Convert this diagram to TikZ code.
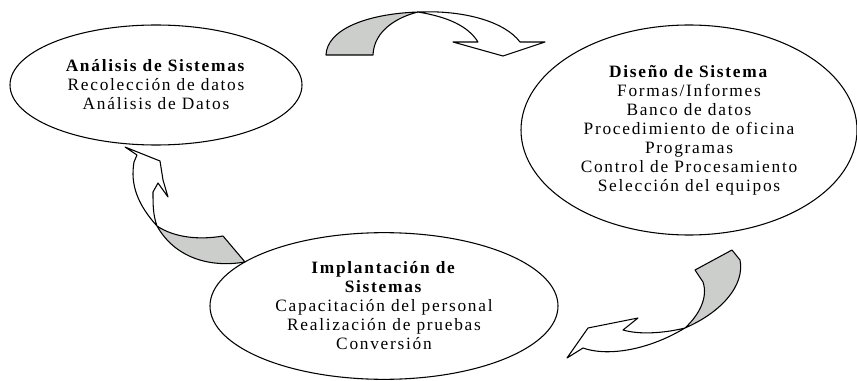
\documentclass[tikz,border=0pt]{standalone}
\usepackage{fontspec}
\setmainfont{Liberation Serif}[LetterSpace=10]
\usetikzlibrary{shapes.geometric}
\definecolor{fondo}{RGB}{204,206,204}
\begin{document}
\begin{tikzpicture}[x=0.75pt,y=-0.75pt]
\tikzset{fase/.style={draw,ellipse,line width=0.8pt,inner sep=0pt,align=center,font=\fontsize{13}{14.25}\selectfont}}
\tikzset{vuelta/.style={draw,line width=0.8pt,line join=round,fill=white}}
\tikzset{reves/.style={vuelta,fill=fondo}}
\useasboundingbox (0,0) rectangle (857,381);

% the phases
\node[fase,minimum width=219pt,minimum height=90pt] (analisis) at (156,85)
  {\textbf{Análisis de Sistemas}\\Recolección de datos\\Análisis de Datos};
\node[fase,minimum width=252pt,minimum height=157.5pt] (diseno) at (689,130)
  {\textbf{Diseño de Sistema}\\Formas/Informes\\Banco de datos\\Procedimiento de oficina\\Programas\\Control de Procesamiento\\Selección del equipos};
\node[fase,minimum width=261pt,minimum height=110pt] (implanta) at (384,306)
  {\textbf{Implantación de}\\\textbf{Sistemas}\\Capacitación del personal\\Realización de pruebas\\Conversión};

% arrow analisis -> diseno
\draw[reves] (326,55) .. controls (327,30) and (365,14) .. (418,12) .. controls (398,17) and (374,30) .. (373,55) -- cycle;
\draw[vuelta] (418,12) .. controls (465,10) and (505,22) .. (520,42) -- (545,42) -- (503,56) -- (453,42) -- (478,42) .. controls (468,26) and (448,17) .. (418,12) -- cycle;

% arrow diseno -> implanta
\draw[reves] (685,328) .. controls (700,314) and (708,297) .. (703,282) -- (695,270) -- (732,250) -- (740,260) .. controls (745,285) and (722,312) .. (685,328) -- cycle;
\draw[vuelta] (685,328) .. controls (665,333) and (640,335) .. (623,330) -- (638,318) -- (588,328) -- (567,358) -- (583,348) .. controls (605,356) and (645,352) .. (685,328) -- cycle;

% arrow implanta -> analisis
\draw[reves] (157,226) .. controls (175,238) and (200,240) .. (223,236) -- (245,262) .. controls (210,268) and (175,258) .. (157,226) -- cycle;
\draw[vuelta] (157,226) .. controls (138,205) and (130,185) .. (134,162) -- (137,155) -- (125,147) -- (160,161) -- (163,180) -- (168,197) -- (158,183) -- (153,192) .. controls (153,205) and (153,215) .. (157,226) -- cycle;
\end{tikzpicture}
\end{document}
